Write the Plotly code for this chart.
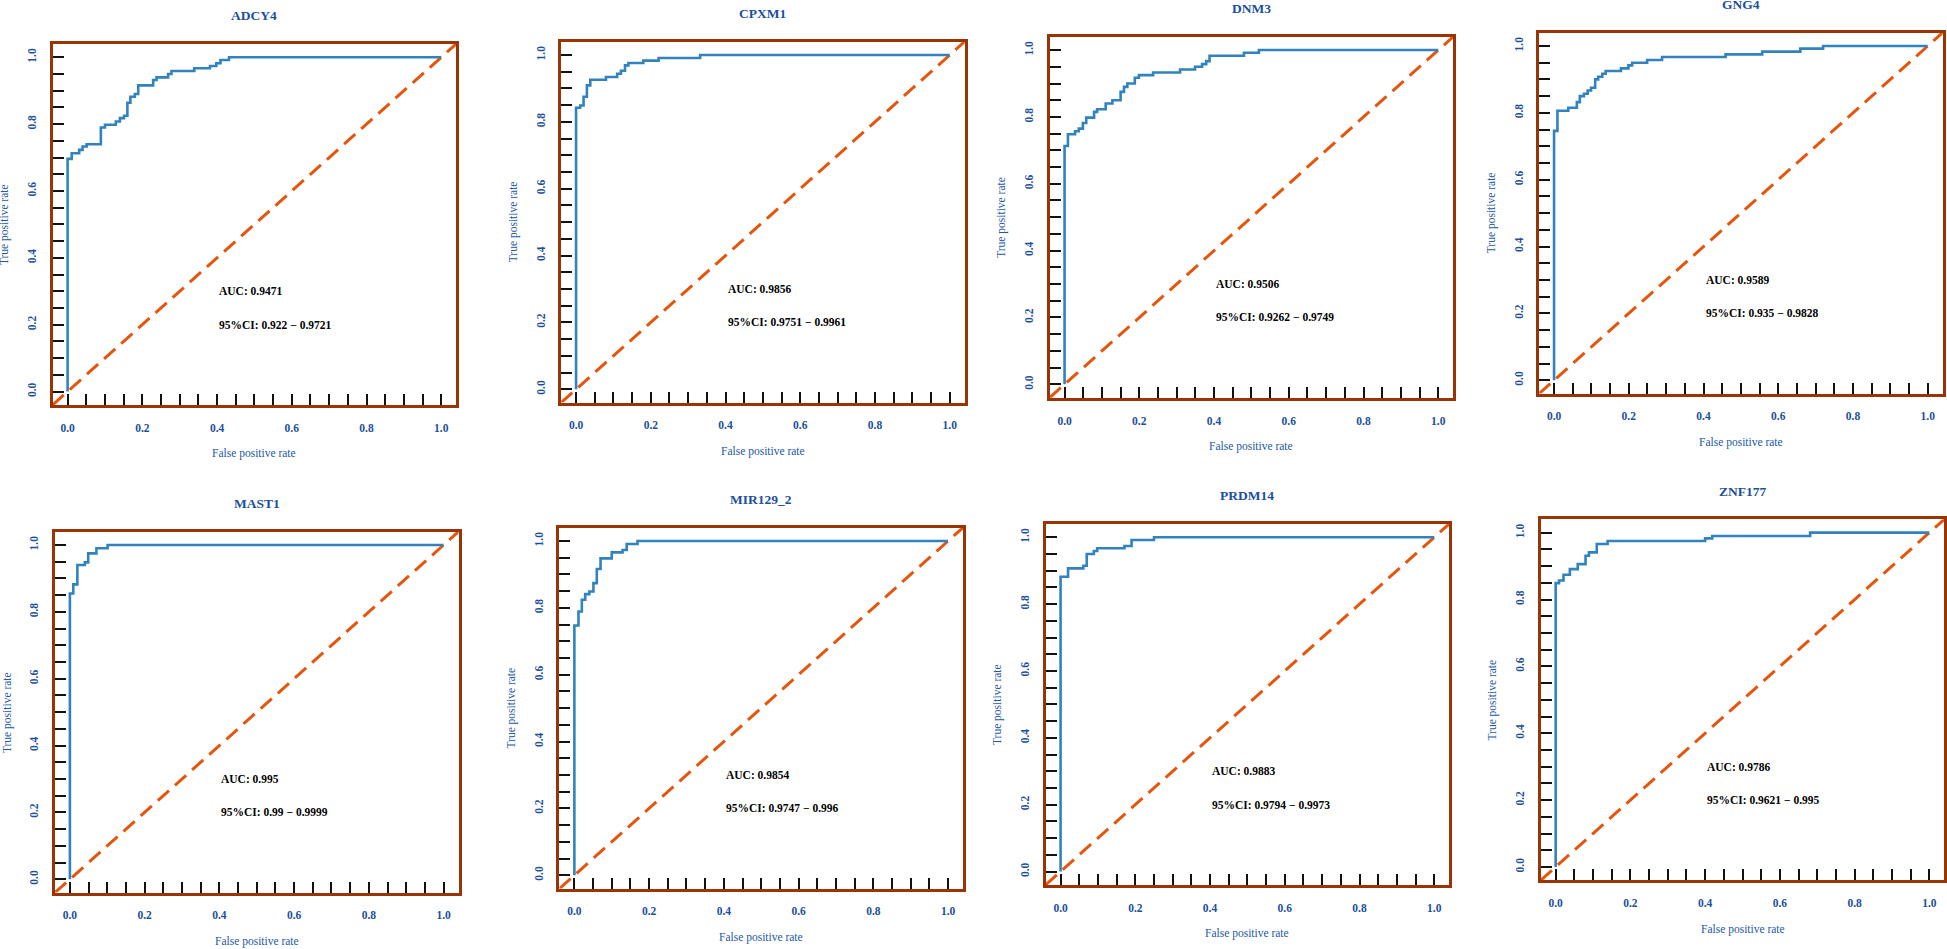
import plotly.graph_objects as go

# ---------------- data ----------------
genes = ["ADCY4", "CPXM1", "DNM3", "GNG4", "MAST1", "MIR129_2", "PRDM14", "ZNF177"]

auc_values = ["0.9471", "0.9856", "0.9506", "0.9589", "0.995", "0.9854", "0.9883", "0.9786"]
ci_values = ["0.922 − 0.9721", "0.9751 − 0.9961", "0.9262 − 0.9749", "0.935 − 0.9828",
             "0.99 − 0.9999", "0.9747 − 0.996", "0.9794 − 0.9973", "0.9621 − 0.995"]

fpr_ADCY4 = [0, 0, 0.011, 0.031, 0.040, 0.051, 0.089, 0.100, 0.129, 0.140, 0.151, 0.160, 0.168,
             0.180, 0.189, 0.229, 0.238, 0.269, 0.278, 0.339, 0.381, 0.398, 0.409, 0.432, 1.0]
tpr_ADCY4 = [0, 0.696, 0.713, 0.723, 0.733, 0.740, 0.790, 0.798, 0.808, 0.818, 0.825, 0.864, 0.882,
             0.890, 0.916, 0.932, 0.940, 0.950, 0.959, 0.967, 0.974, 0.982, 0.992, 1.0, 1.0]

fpr_CPXM1 = [0, 0, 0.011, 0.020, 0.029, 0.038, 0.080, 0.110, 0.120, 0.131, 0.140, 0.180, 0.221, 0.332, 1.0]
tpr_CPXM1 = [0, 0.842, 0.849, 0.875, 0.909, 0.926, 0.934, 0.944, 0.953, 0.969, 0.976, 0.983, 0.991, 1.0, 1.0]

fpr_DNM3 = [0, 0, 0.009, 0.028, 0.038, 0.049, 0.058, 0.079, 0.087, 0.110, 0.128, 0.150, 0.159, 0.168,
            0.188, 0.199, 0.237, 0.309, 0.349, 0.368, 0.379, 0.388, 0.480, 0.520, 1.0]
tpr_DNM3 = [0, 0.713, 0.748, 0.757, 0.765, 0.782, 0.798, 0.815, 0.823, 0.840, 0.850, 0.875, 0.890, 0.900,
            0.917, 0.925, 0.933, 0.942, 0.950, 0.958, 0.967, 0.983, 0.992, 1.0, 1.0]

fpr_GNG4 = [0, 0, 0.009, 0.038, 0.061, 0.069, 0.080, 0.090, 0.099, 0.110, 0.118, 0.129, 0.138, 0.179,
            0.199, 0.209, 0.249, 0.289, 0.459, 0.557, 0.659, 0.720, 1.0]
tpr_GNG4 = [0, 0.746, 0.806, 0.815, 0.832, 0.850, 0.857, 0.867, 0.875, 0.900, 0.908, 0.917, 0.925, 0.933,
            0.942, 0.950, 0.958, 0.967, 0.975, 0.983, 0.992, 1.0, 1.0]

fpr_MAST1 = [0, 0, 0.009, 0.020, 0.040, 0.049, 0.071, 0.101, 1.0]
tpr_MAST1 = [0, 0.855, 0.882, 0.940, 0.948, 0.975, 0.990, 1.0, 1.0]

fpr_MIR129_2 = [0, 0, 0.011, 0.020, 0.029, 0.040, 0.051, 0.060, 0.070, 0.100, 0.129, 0.140, 0.169, 1.0]
tpr_MIR129_2 = [0, 0.747, 0.789, 0.824, 0.841, 0.849, 0.874, 0.916, 0.948, 0.966, 0.973, 0.991, 1.0, 1.0]

fpr_PRDM14 = [0, 0, 0.020, 0.061, 0.070, 0.089, 0.098, 0.171, 0.190, 0.250, 1.0]
tpr_PRDM14 = [0, 0.882, 0.907, 0.915, 0.950, 0.959, 0.967, 0.974, 0.992, 1.0, 1.0]

fpr_ZNF177 = [0, 0, 0.009, 0.021, 0.038, 0.059, 0.080, 0.089, 0.110, 0.139, 0.400, 0.419, 0.681, 1.0]
tpr_ZNF177 = [0, 0.849, 0.857, 0.874, 0.891, 0.906, 0.931, 0.941, 0.966, 0.975, 0.983, 0.990, 1.0, 1.0]

fpr_list = [fpr_ADCY4, fpr_CPXM1, fpr_DNM3, fpr_GNG4, fpr_MAST1, fpr_MIR129_2, fpr_PRDM14, fpr_ZNF177]
tpr_list = [tpr_ADCY4, tpr_CPXM1, tpr_DNM3, tpr_GNG4, tpr_MAST1, tpr_MIR129_2, tpr_PRDM14, tpr_ZNF177]

tick_vals = [i * 0.05 for i in range(21)]
tick_text = [("%.1f" % v) if (i % 4 == 0) else "" for i, v in enumerate(tick_vals)]

# ---------------- layout / style ----------------
W, H = 1947, 949
box_left = [52.7, 561.7, 1050.7, 1540.7, 55.0, 560.0, 1046.7, 1542.3]
box_top = [43.9, 41.6, 36.7, 32.6, 531.6, 527.6, 523.9, 519.3]
box_w, box_h = 404.0, 361.0
axis_range = [-0.04, 1.04]

FONT = "Liberation Serif, Times New Roman, serif"
BOX_COLOR = "#993404"
ROC_COLOR = "#3182BD"
DIAG_COLOR = "#E6550D"
LABEL_BLUE = "#1C4F9C"
TITLE_BLUE = "#2358A6"

fig = go.Figure()
annotations = []
layout_axes = {}

for i, gene in enumerate(genes):
    n = i + 1
    xa = "x" if n == 1 else "x%d" % n
    ya = "y" if n == 1 else "y%d" % n
    L, T = box_left[i], box_top[i]
    xdom = [L / W, (L + box_w) / W]
    ydom = [1 - (T + box_h) / H, 1 - T / H]

    # diagonal reference line (corner to corner of the plotting region)
    fig.add_trace(go.Scatter(x=axis_range, y=axis_range, mode="lines", xaxis=xa, yaxis=ya,
                             line=dict(color=DIAG_COLOR, width=3, dash="15px,8px"),
                             showlegend=False, hoverinfo="skip"))
    # ROC curve
    fig.add_trace(go.Scatter(x=fpr_list[i], y=tpr_list[i], mode="lines", xaxis=xa, yaxis=ya,
                             line=dict(color=ROC_COLOR, width=2.6, shape="hv"),
                             showlegend=False, name=gene))

    common = dict(range=axis_range, showgrid=False, zeroline=False, showline=True, mirror=True,
                  linecolor=BOX_COLOR, linewidth=3, ticks="inside", ticklen=11, tickwidth=2,
                  tickcolor="#111111", tickmode="array", tickvals=tick_vals, ticktext=tick_text,
                  tickfont=dict(family=FONT, size=11.5, color=LABEL_BLUE, weight="bold"),
                  fixedrange=True)
    layout_axes["xaxis" if n == 1 else "xaxis%d" % n] = dict(
        common, domain=xdom, anchor=ya, ticklabelstandoff=10)
    layout_axes["yaxis" if n == 1 else "yaxis%d" % n] = dict(
        common, domain=ydom, anchor=xa, tickangle=-90, ticklabelstandoff=9)

    cx = (L + box_w / 2) / W
    # title
    annotations.append(dict(text="<b>%s</b>" % gene, xref="paper", yref="paper",
                            x=cx, y=1 - (T - 28) / H, xanchor="center", yanchor="middle",
                            showarrow=False, font=dict(family=FONT, size=13.5, color=LABEL_BLUE)))
    # x axis title
    annotations.append(dict(text="False positive rate", xref="paper", yref="paper",
                            x=cx, y=1 - (T + box_h + 49) / H, xanchor="center", yanchor="middle",
                            showarrow=False, font=dict(family=FONT, size=11.5, color=TITLE_BLUE)))
    # y axis title
    annotations.append(dict(text="True positive rate", xref="paper", yref="paper",
                            x=(L - 48) / W, y=1 - (T + box_h / 2) / H, xanchor="center",
                            yanchor="middle", textangle=-90,
                            showarrow=False, font=dict(family=FONT, size=11.5, color=TITLE_BLUE)))
    # AUC texts
    annotations.append(dict(text="<b>AUC: %s</b>" % auc_values[i], xref=xa, yref=ya,
                            x=0.4, y=0.3, xanchor="left", yanchor="middle", showarrow=False,
                            font=dict(family=FONT, size=11.5, color="black")))
    annotations.append(dict(text="<b>95%%CI: %s</b>" % ci_values[i], xref=xa, yref=ya,
                            x=0.4, y=0.2, xanchor="left", yanchor="middle", showarrow=False,
                            font=dict(family=FONT, size=11.5, color="black")))

fig.update_layout(width=W, height=H, margin=dict(l=0, r=0, t=0, b=0),
                  paper_bgcolor="white", plot_bgcolor="white", showlegend=False,
                  annotations=annotations, **layout_axes)

fig.write_html("out.html", config={"displayModeBar": False},
               post_script="document.body.style.margin='0';document.body.style.padding='0';"
                           "document.body.style.overflow='hidden';"
                           "document.documentElement.style.overflow='hidden';")
